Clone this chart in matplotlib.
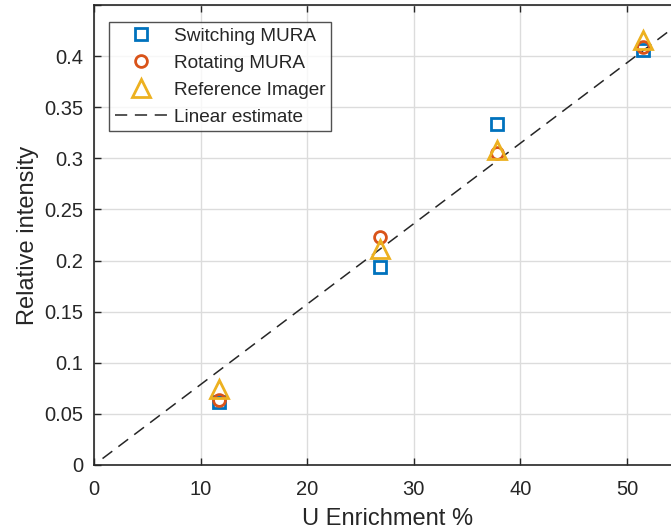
import matplotlib
matplotlib.use("Agg")
import matplotlib.pyplot as plt
import numpy as np

plt.rcParams['font.family'] = ['Liberation Sans', 'DejaVu Sans']

enrichment = [11.7, 26.8, 37.8, 51.5]
switching = [0.062, 0.194, 0.334, 0.406]
rotating = [0.064, 0.223, 0.305, 0.409]
reference = [0.074, 0.211, 0.308, 0.416]
fit_x = [0.8, 60.0]
fit_slope = 0.00787

xticks = [0, 10, 20, 30, 40, 50]
yticks = [0, 0.05, 0.1, 0.15, 0.2, 0.25, 0.3, 0.35, 0.4, 0.45]
ytick_labels = ['0', '0.05', '0.1', '0.15', '0.2', '0.25', '0.3', '0.35', '0.4', '']

W, H = 671, 532
fig = plt.figure(figsize=(W / 100, H / 100), dpi=100)
x0, x1 = 94, 94 + 10.66 * 55
y0, y1 = 465, 5
ax = fig.add_axes([x0 / W, (H - y0) / H, (x1 - x0) / W, (y0 - y1) / H])

dark = '#262626'
blue = '#0072BD'
orange = '#D95319'
yellow = '#EDB120'

ax.plot(enrichment, switching, 's', ms=8, mfc='none', mec=blue, mew=2.0,
        label='Switching MURA', zorder=3)
ax.plot(enrichment, rotating, 'o', ms=8.5, mfc='none', mec=orange, mew=2.0,
        label='Rotating MURA', zorder=4)
ax.plot(enrichment, reference, '^', ms=12.5, mfc='none', mec=yellow, mew=2.0,
        label='Reference Imager', zorder=5)
fx = np.array(fit_x)
ax.plot(fx, fit_slope * fx, color=dark, lw=1.1, dashes=(8, 5),
        label='Linear estimate', zorder=2)

ax.set_xlim(0, 55)
ax.set_ylim(0, 0.45)
ax.set_xticks(xticks)
ax.set_yticks(yticks)
ax.set_yticklabels(ytick_labels)
ax.grid(True, color='#dcdcdc', lw=1.0)
ax.set_axisbelow(True)
ax.tick_params(direction='in', top=True, right=True, length=5, width=1.0,
               colors=dark, labelsize=14.5, labelcolor=dark)
ax.tick_params(axis='x', pad=11)
ax.tick_params(axis='y', pad=7.5)
for s in ax.spines.values():
    s.set_color(dark)
    s.set_linewidth(1.2)

ax.set_xlabel('U Enrichment %', fontsize=17, color=dark, labelpad=6)
ax.set_ylabel('Relative intensity', fontsize=17, color=dark, labelpad=4)

leg = ax.legend(loc='upper left', bbox_to_anchor=(109 / W, 1 - 22 / H),
                bbox_transform=fig.transFigure, fontsize=13.7, frameon=True,
                fancybox=False, edgecolor=dark, handlelength=2.8,
                handletextpad=0.3, labelspacing=0.5, borderpad=0.3,
                borderaxespad=0)
leg.get_frame().set_linewidth(1.0)
for t in leg.get_texts():
    t.set_color(dark)

fig.savefig('out.png', dpi=100)
